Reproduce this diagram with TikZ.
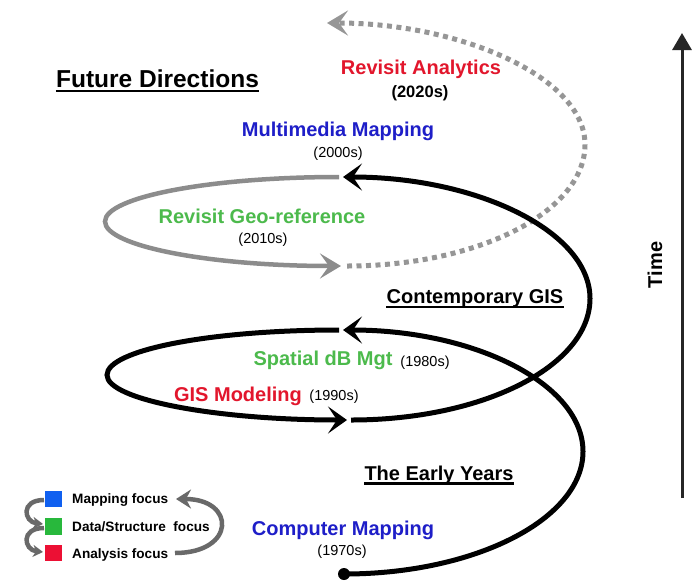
\documentclass[tikz,border=0pt]{standalone}
\usepackage{fontspec}
\setmainfont{Liberation Sans}
\usetikzlibrary{arrows.meta}

\definecolor{gisred}{RGB}{226,22,44}
\definecolor{gisblue}{RGB}{30,30,200}
\definecolor{gisgreen}{RGB}{76,186,76}
\definecolor{sqblue}{RGB}{16,96,240}
\definecolor{sqgreen}{RGB}{40,184,60}
\definecolor{sqred}{RGB}{236,16,52}
\definecolor{loopgray}{RGB}{140,140,140}
\definecolor{dotgray}{RGB}{150,150,150}
\definecolor{keygray}{RGB}{105,105,105}

\begin{document}
\begin{tikzpicture}[x=1pt,y=-1pt,
  every node/.style={inner sep=0pt},
  era/.style={font=\bfseries\fontsize{20}{22}\selectfont, anchor=base},
  decade/.style={font=\fontsize{14.5}{16}\selectfont, anchor=base},
  heading/.style={font=\bfseries\fontsize{20}{22}\selectfont, anchor=base},
  keytext/.style={font=\bfseries\fontsize{13.6}{15}\selectfont, anchor=base west},
  keysq/.style={minimum width=17pt, minimum height=16.5pt},
  spiral/.style={line width=5pt, black},
  blacktip/.style={-{Stealth[length=19pt,width=27pt,inset=9pt]}},
  graytip/.style={-{Stealth[length=21pt,width=25pt,inset=9pt]}},
  keyarrow/.style={line width=4.5pt, keygray},
  rule/.style={line width=2.2pt}
]
\useasboundingbox[fill=white] (0,0) rectangle (695,581);

% ---------- anchor points of the spiral ----------
\coordinate (p0) at (344,574);
\coordinate (p1) at (583,451.5);
\coordinate (p2) at (343,330);
\coordinate (q0) at (339,330);
\coordinate (q1) at (107,375);
\coordinate (q2) at (347,420);
\coordinate (r0) at (351,420);
\coordinate (r1) at (590,298.5);
\coordinate (r2) at (343,177);
\coordinate (s0) at (339,177);
\coordinate (s1) at (105,221.5);
\coordinate (s2) at (341,266);
\coordinate (t0) at (347,266);
\coordinate (t1) at (585,144.5);
\coordinate (t2) at (327,23);

% ---------- future turn (dotted) ----------
\draw[line width=5pt, dotgray, dash pattern=on 5pt off 4.5pt, graytip]
  (t0) .. controls (478.5,266) and (585,211.6) .. (t1)
       .. controls (585,77.4) and (460.5,23) .. (t2);

% ---------- grey loop ----------
\draw[line width=4.5pt, loopgray, graytip]
  (s0) .. controls (210.7,177) and (105,196.9) .. (s1)
       .. controls (105,246.1) and (209.7,266) .. (s2);

% ---------- black turns ----------
\draw[spiral, blacktip]
  (r0) .. controls (484,420) and (590,365.6) .. (r1)
       .. controls (590,231.4) and (477,177) .. (r2);
\draw[spiral, blacktip]
  (q0) .. controls (210,330) and (107,350.1) .. (q1)
       .. controls (107,399.9) and (217,420) .. (q2);
\draw[spiral, blacktip]
  (p0) .. controls (476,574) and (583,518.6) .. (p1)
       .. controls (583,384.4) and (475.6,330) .. (p2);
\fill[black] (p0) circle[radius=6pt];

% ---------- time axis ----------
\coordinate (ta) at (682,498);
\coordinate (tb) at (682,33);
\draw[line width=3pt, black!85, -{Triangle[length=17pt,width=19pt]}] (ta) -- (tb);
\node[font=\bfseries\fontsize{20}{22}\selectfont, rotate=90] (time) at (655,265) {Time};

% ---------- headings ----------
\node[heading, font=\bfseries\fontsize{24.5}{27}\selectfont] (fd) at (157.5,87) {Future Directions};
\draw[rule] ([yshift=-4pt]fd.base west) -- ([yshift=-4pt]fd.base east);
\node[heading] (cg) at (475,303) {Contemporary GIS};
\draw[rule] ([yshift=-4pt]cg.base west) -- ([yshift=-4pt]cg.base east);
\node[heading] (ey) at (439,480) {The Early Years};
\draw[rule] ([yshift=-3.5pt]ey.base west) -- ([yshift=-3.5pt]ey.base east);

% ---------- eras ----------
\node[era, gisred] (ra) at (421,74) {Revisit Analytics};
\node[decade, font=\bfseries\fontsize{16.5}{18}\selectfont] (y2020) at (420,97) {(2020s)};
\node[era, gisblue] (mm) at (338,136) {Multimedia Mapping};
\node[decade] (y2000) at (338,157) {(2000s)};
\node[era, gisgreen] (rg) at (262,223) {Revisit Geo-reference};
\node[decade] (y2010) at (263,243) {(2010s)};
\node[era, gisgreen] (sd) at (323,365) {Spatial dB Mgt};
\node[decade] (y1980) at (425,366) {(1980s)};
\node[era, gisred] (gm) at (238,401) {GIS Modeling};
\node[decade] (y1990) at (334,400) {(1990s)};
\node[era, gisblue] (cm) at (343,535) {Computer Mapping};
\node[decade] (y1970) at (342,555) {(1970s)};

% ---------- key ----------
\node[keysq, fill=sqblue] (kb) at (53.5,499) {};
\node[keysq, fill=sqgreen] (kg) at (53.5,526.5) {};
\node[keysq, fill=sqred] (kr) at (53.5,553) {};
\node[keytext] (tm) at (72,503) {Mapping focus};
\node[keytext] (td) at (72,531) {Data/Structure\ \ focus};
\node[keytext] (tan) at (72,558) {Analysis focus};

\coordinate (k1) at (44,500);
\coordinate (k2) at (43,524);
\coordinate (k3) at (44,528);
\coordinate (k4) at (43,552);
\coordinate (k5) at (175,553);
\coordinate (k6) at (176,499);
\draw[keyarrow, -{Stealth[length=10pt,width=12pt,inset=3pt]}]
  (k1) .. controls (20,500) and (24,522) .. (k2);
\draw[keyarrow, -{Stealth[length=10pt,width=12pt,inset=3pt]}]
  (k3) .. controls (20,528) and (24,550) .. (k4);
\draw[keyarrow, -{Stealth[length=15pt,width=19pt,inset=5pt]}]
  (k5) .. controls (236,553) and (236,499) .. (k6);
\end{tikzpicture}
\end{document}
